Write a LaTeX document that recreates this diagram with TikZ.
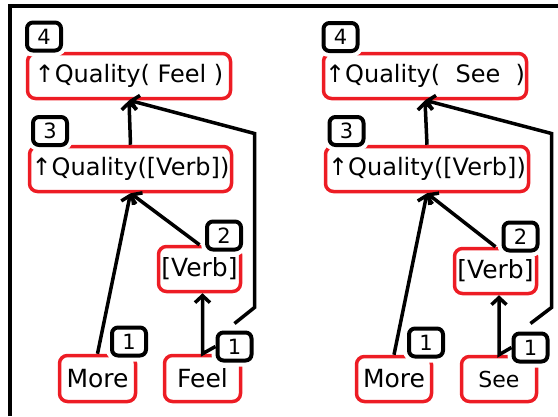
\documentclass[tikz,border=0pt]{standalone}
\usepackage{fontspec}
\setmainfont{DejaVu Sans}
\usepackage{tikz}
\usetikzlibrary{arrows.meta}
\definecolor{paintred}{RGB}{237,28,36}
\newcommand{\qualfont}{\fontsize{24}{28}\selectfont}
\newcommand{\wordfont}{\fontsize{25}{28}\selectfont}
\newcommand{\numfont}{\fontsize{21}{23}\selectfont}
\tikzset{
    wordbox/.style={draw=paintred, line width=3.5pt, rounded corners=8pt, inner sep=0pt},
    numbox/.style={draw=black, fill=white, line width=4pt, rounded corners=6pt,
        minimum width=34pt, minimum height=28pt, inner sep=0pt, font=\numfont,
        preaction={draw=white, line width=12pt}},
    arr/.style={line width=3.5pt, -{Straight Barb[length=7pt,width=15pt]}}
}

\begin{document}
\begin{tikzpicture}[x=1pt,y=-1pt]
    \useasboundingbox (0,0) rectangle (558,416);
    % Rahmen
    \draw[line width=4pt] (9.5,416) -- (9.5,5.5) -- (558,5.5);
    % linke Seite: Kaesten
    \node[wordbox, minimum width=203pt, minimum height=45pt, font=\qualfont] (lq4) at (129,76) {↑Quality( Feel )};
    \node[wordbox, minimum width=202pt, minimum height=45pt, font=\qualfont] (lq3) at (130.5,169) {↑Quality([Verb])};
    \node[wordbox, minimum width=82pt, minimum height=45pt, font=\wordfont] (lverb) at (199.5,269) {[Verb]};
    \node[wordbox, minimum width=76pt, minimum height=46pt, font=\wordfont] (lmore) at (97.5,378.5) {More};
    \node[wordbox, minimum width=76pt, minimum height=46pt, font=\wordfont] (lfeel) at (202.5,378.5) {Feel};
    % linke Seite: Nummern
    \node[numbox] (ln4) at (44,36.5) {4};
    \node[numbox] (ln3) at (50,131) {3};
    \node[numbox] (ln2) at (224,235.5) {2};
    \node[numbox] (lnm) at (129,341.5) {1};
    \node[numbox] (lnf) at (234.5,346.5) {1};
    % linke Seite: Pfeile
    \draw[arr] (lq3.north) -- (lq4.south);
    \draw[arr] (lmore.north) -- (lq3.south);
    \draw[arr] (lverb.north) -- (lq3.south);
    \draw[arr] (lnf.west) -- (lfeel.north) -- (lfeel.north |- lverb.south);
    \draw[arr] (lnf.north) ++(0,-7) -- ++(20,-16) -- ++(0,-174) -- (lq4.south);
    % rechte Seite: Kaesten
    \node[wordbox, minimum width=203pt, minimum height=45pt, font=\qualfont] (rq4) at (425,76) {↑Quality(\ \ See\ \ )};
    \node[wordbox, minimum width=203pt, minimum height=45pt, font=\qualfont] (rq3) at (427,169) {↑Quality([Verb])};
    \node[wordbox, minimum width=82pt, minimum height=45pt, font=\wordfont] (rverb) at (495.5,271) {[Verb]};
    \node[wordbox, minimum width=75pt, minimum height=45pt, font=\wordfont] (rmore) at (394,379) {More};
    \node[wordbox, minimum width=75pt, minimum height=45pt, font=\fontsize{22}{26}\selectfont] (rsee) at (499,379) {See};
    % rechte Seite: Nummern
    \node[numbox] (rn4) at (340.5,37) {4};
    \node[numbox] (rn3) at (346.5,131) {3};
    \node[numbox] (rn2) at (520.5,236.5) {2};
    \node[numbox] (rnm) at (426,342.5) {1};
    \node[numbox] (rns) at (530.5,347.5) {1};
    % rechte Seite: Pfeile
    \draw[arr] (rq3.north) -- (rq4.south);
    \draw[arr] (rmore.north) -- (rq3.south);
    \draw[arr] (rverb.north) -- (rq3.south);
    \draw[arr] (rns.west) -- (rsee.north) -- (rsee.north |- rverb.south);
    \draw[arr] (rns.north) ++(0,-8) -- ++(21,-16) -- ++(0,-174) -- (rq4.south);
\end{tikzpicture}
\end{document}
